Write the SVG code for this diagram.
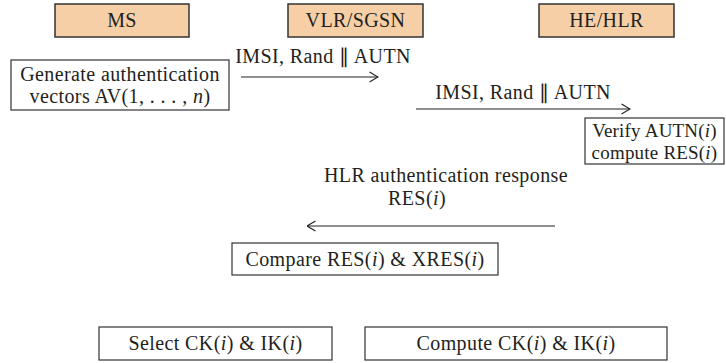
<svg xmlns="http://www.w3.org/2000/svg" width="726" height="363" viewBox="0 0 726 363">
<defs>
<style>
text{font-family:"Liberation Serif","Times New Roman",serif;font-size:20px;letter-spacing:0.4px;fill:#231f20;text-anchor:middle}
.ent{fill:#f6cfa7;stroke:#333;stroke-width:1.5}
.box{fill:#fff;stroke:#333;stroke-width:1.2}
.msg{stroke:#231f20;stroke-width:1.1;fill:none}
text.sm{font-size:19px;letter-spacing:0.2px}
tspan.i{font-style:italic}
</style>
<marker id="ah" viewBox="0 0 10 12" refX="9.5" refY="6" markerWidth="10" markerHeight="12" markerUnits="userSpaceOnUse" orient="auto-start-reverse">
<path d="M1,1 L9.5,6 L1,11" fill="none" stroke="#231f20" stroke-width="1.1"/>
</marker>
</defs>
<rect width="726" height="363" fill="#fff"/>
<g id="ms"><rect class="ent" x="55" y="4" width="134" height="33"/><text x="122" y="27">MS</text></g>
<g id="vlr"><rect class="ent" x="288" y="4" width="135" height="33"/><text x="355.5" y="27">VLR/SGSN</text></g>
<g id="hlr"><rect class="ent" x="539" y="4" width="135" height="33"/><text x="606.5" y="27">HE/HLR</text></g>
<g id="generate"><rect class="box" x="11" y="60" width="218" height="50"/><text x="120" y="81">Generate authentication</text><text x="120" y="103">vectors AV(1, . . . , <tspan class="i">n</tspan>)</text></g>
<g id="verify"><rect class="box" x="585" y="118" width="139" height="46"/><text class="sm" x="654.5" y="137">Verify AUTN(<tspan class="i">i</tspan>)</text><text class="sm" x="654.5" y="159">compute RES(<tspan class="i">i</tspan>)</text></g>
<g id="compare"><rect class="box" x="232" y="243" width="266" height="32"/><text x="365" y="266">Compare RES(<tspan class="i">i</tspan>) &amp; XRES(<tspan class="i">i</tspan>)</text></g>
<g id="select"><rect class="box" x="99" y="327" width="233" height="33"/><text x="215.5" y="350">Select CK(<tspan class="i">i</tspan>) &amp; IK(<tspan class="i">i</tspan>)</text></g>
<g id="computeck"><rect class="box" x="365" y="327" width="302" height="33"/><text x="516" y="350">Compute CK(<tspan class="i">i</tspan>) &amp; IK(<tspan class="i">i</tspan>)</text></g>
<g id="connectors">
<line class="msg" x1="241" y1="77" x2="378" y2="77" marker-end="url(#ah)"/>
<text x="323" y="63">IMSI, Rand ∥ AUTN</text>
<line class="msg" x1="416" y1="109" x2="630" y2="109" marker-end="url(#ah)"/>
<text x="523" y="99">IMSI, Rand ∥ AUTN</text>
<line class="msg" x1="555" y1="226" x2="307" y2="226" marker-end="url(#ah)"/>
<text x="446" y="182">HLR authentication response</text>
<text x="417" y="205">RES(<tspan class="i">i</tspan>)</text>
</g>
</svg>
